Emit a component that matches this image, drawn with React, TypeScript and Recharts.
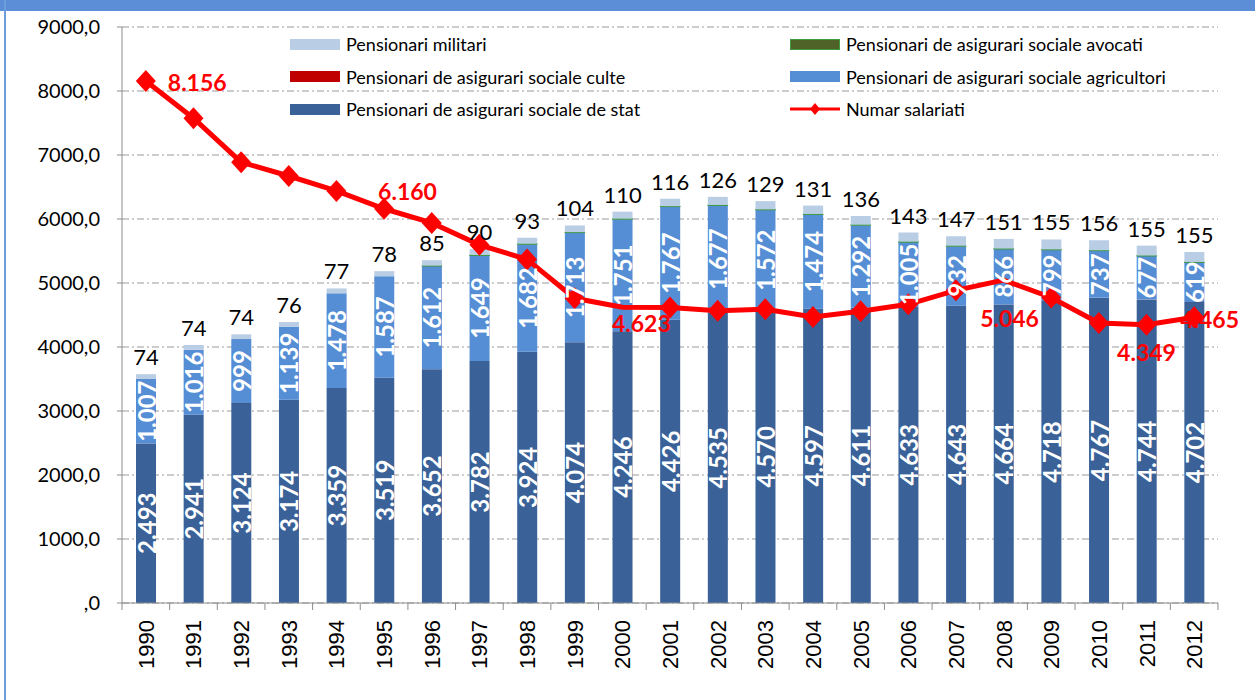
import React from "react";
import {
  ComposedChart, Bar, Line, XAxis, YAxis, CartesianGrid, LabelList,
} from "recharts";

// thousands of persons, by year
const years = [
  "1990", "1991", "1992", "1993", "1994", "1995", "1996", "1997", "1998", "1999", "2000", "2001",
  "2002", "2003", "2004", "2005", "2006", "2007", "2008", "2009", "2010", "2011", "2012",
];
const pensStat = [
  2493, 2941, 3124, 3174, 3359, 3519, 3652, 3782, 3924, 4074, 4246, 4426,
  4535, 4570, 4597, 4611, 4633, 4643, 4664, 4718, 4767, 4744, 4702,
];
const pensCulte = [
  1, 1, 1, 1, 1, 1, 1, 1, 1, 1, 1, 1,
  1, 1, 1, 1, 1, 1, 1, 1, 1, 1, 1,
];
const pensAgricultori = [
  1007, 1016, 999, 1139, 1478, 1587, 1612, 1649, 1682, 1713, 1751, 1767,
  1677, 1572, 1474, 1292, 1005, 932, 866, 799, 737, 677, 619,
];
const pensAvocati = [
  0, 0, 0, 0, 0, 0, 6, 6, 7, 7, 7, 7,
  7, 7, 7, 7, 7, 7, 7, 7, 7, 7, 7,
];
const pensMilitari = [
  74, 74, 74, 76, 77, 78, 85, 90, 93, 104, 110, 116,
  126, 129, 131, 136, 143, 147, 151, 155, 156, 155, 155,
];
const salariati = [
  8156, 7574, 6888, 6672, 6438, 6160, 5939, 5597, 5369, 4761, 4623, 4619,
  4568, 4591, 4469, 4559, 4667, 4885, 5046, 4774, 4376, 4349, 4465,
];
const yTicks = [0, 1000, 2000, 3000, 4000, 5000, 6000, 7000, 8000, 9000];
const labelledYears = ["1990", "1995", "2000", "2008", "2011", "2012"];
const noMarkerYears = ["2000", "2008"];

const data = years.map((y, i) => ({
  year: y,
  stat: pensStat[i],
  culte: pensCulte[i],
  agricultori: pensAgricultori[i],
  avocati: pensAvocati[i],
  militari: pensMilitari[i],
  salariati: salariati[i],
}));

const W = 1255;
const H = 700;
const M = { top: 27, right: 37, bottom: 0, left: 0 };
const Y_W = 122;
const band = (W - M.left - M.right - Y_W) / years.length;

const C = {
  stat: "#3A6298",
  culte: "#C00000",
  agri: "#558ED5",
  avocati: "#4F6228",
  militari: "#B9CDE5",
  line: "#FF0000",
  grid: "#9a9a9a",
  axis: "#8c8c8c",
};

const FONT = "Lato, 'Open Sans', sans-serif";

const fmt = (n: number) =>
  n >= 1000 ? `${Math.floor(n / 1000)}.${String(n % 1000).padStart(3, "0")}` : `${n}`;

const YearTick = (props: any) => {
  const { x, y, payload, index } = props;
  const axisY = y;
  return (
    <g>
      <line x1={x - band / 2} x2={x - band / 2} y1={axisY} y2={axisY + 7} stroke={C.axis} />
      {index === years.length - 1 && (
        <line x1={x + band / 2} x2={x + band / 2} y1={axisY} y2={axisY + 7} stroke={C.axis} />
      )}
      <text
        transform={`translate(${x + 8},${axisY + 17}) rotate(-90)`}
        textAnchor="end"
        fontSize={22}
        fontFamily="'Liberation Sans', Arial, sans-serif"
        fill="#000"
      >
        {payload.value}
      </text>
    </g>
  );
};

const InsideLabel = (props: any) => {
  const { x, y, width, height, value } = props;
  const cx = x + width / 2;
  const cy = y + height / 2;
  return (
    <text
      transform={`translate(${cx},${cy}) rotate(-90)`}
      textAnchor="middle"
      dominantBaseline="central"
      fontSize={24}
      fontWeight={700}
      fontFamily={FONT}
      fill="#fff"
    >
      {fmt(value)}
    </text>
  );
};

const Diamond = (props: any) => {
  const { cx, cy, payload, index } = props;
  if (noMarkerYears.includes(payload.year)) return <g key={index} />;
  const r = 11;
  return (
    <path
      key={index}
      d={`M${cx},${cy - r}L${cx + r - 1},${cy}L${cx},${cy + r}L${cx - r + 1},${cy}Z`}
      fill={C.line}
    />
  );
};

// label placement around the point: dx, dy, anchor
const linePos: Record<string, [number, number, string]> = {
  "1990": [22, 1, "start"],
  "1995": [-6, -18, "start"],
  "2000": [19, 16, "middle"],
  "2008": [6, 38, "middle"],
  "2011": [0, 27, "middle"],
  "2012": [-14, 2, "start"],
};

const LineLabel = (props: any) => {
  const { x, y, value, index } = props;
  const yr = years[index];
  if (!labelledYears.includes(yr)) return null;
  const [dx, dy, anchor] = linePos[yr];
  return (
    <text
      x={x + dx}
      y={y + dy}
      textAnchor={anchor as any}
      dominantBaseline="central"
      fontSize={23}
      fontWeight={700}
      fontFamily={FONT}
      fill={C.line}
    >
      {fmt(value)}
    </text>
  );
};

const legendItems = [
  { label: "Pensionari militari", color: C.militari, col: 0, row: 0 },
  { label: "Pensionari de asigurari sociale culte", color: C.culte, col: 0, row: 1 },
  { label: "Pensionari de asigurari sociale de stat", color: C.stat, col: 0, row: 2 },
  { label: "Pensionari de asigurari sociale avocati", color: C.avocati, col: 1, row: 0 },
  { label: "Pensionari de asigurari sociale agricultori", color: C.agri, col: 1, row: 1 },
  { label: "Numar salariati", color: C.line, col: 1, row: 2, line: true },
];

function ChartLegend() {
  return (
    <div style={{ position: "absolute", left: 0, top: 0, pointerEvents: "none" }}>
      {legendItems.map((it) => {
        const left = it.col === 0 ? 290 : 790;
        const top = 44 + it.row * 32.5;
        return (
          <div
            key={it.label}
            style={{
              position: "absolute", left, top: top - 12, height: 24,
              display: "flex", alignItems: "center", whiteSpace: "nowrap",
            }}
          >
            {it.line ? (
              <svg width={50} height={14} style={{ display: "block" }}>
                <line x1={0} x2={50} y1={7} y2={7} stroke={C.line} strokeWidth={3} />
                <path d="M25,1L30,7L25,13L20,7Z" fill={C.line} />
              </svg>
            ) : (
              <div
                style={{
                  width: 50, height: 11, background: it.color,
                  boxSizing: "border-box",
                  border: it.col === 1 && it.row === 0 ? "1.5px solid #3f9a3f" : "none",
                }}
              />
            )}
            <span style={{ marginLeft: 6, fontSize: 18, fontFamily: FONT, color: "#000" }}>
              {it.label}
            </span>
          </div>
        );
      })}
    </div>
  );
}

export default function App() {
  return (
    <div style={{ position: "relative", width: W, height: H, background: "#fff", overflow: "hidden" }}>
      <style>{"body{margin:0}"}</style>
      <div style={{ position: "absolute", left: 0, top: 0, width: W, height: 11, background: "#5B8ED6" }} />
      <div style={{ position: "absolute", left: 4, top: 0, width: 2, height: H, background: "#6E9DDC" }} />
      <ComposedChart width={W} height={H} data={data} margin={M}>
        <CartesianGrid
          vertical={false}
          stroke={C.grid}
          strokeDasharray="7 3 2 3"
          horizontalValues={yTicks}
        />
        <XAxis
          dataKey="year"
          interval={0}
          height={97}
          tickLine={false}
          tickSize={0}
          tickMargin={0}
          axisLine={{ stroke: C.axis }}
          tick={<YearTick />}
        />
        <YAxis
          width={Y_W}
          domain={[0, 9000]}
          ticks={yTicks}
          interval={0}
          tickSize={5}
          tickMargin={17}
          axisLine={{ stroke: C.axis }}
          tickLine={{ stroke: C.axis }}
          tick={{ fontSize: 20, fontFamily: FONT, fill: "#000" }}
          tickFormatter={(v: number) => (v === 0 ? ",0" : `${v},0`)}
        />
        <Bar dataKey="stat" stackId="p" fill={C.stat} barSize={20} isAnimationActive={false}>
          <LabelList dataKey="stat" content={<InsideLabel />} />
        </Bar>
        <Bar dataKey="culte" stackId="p" fill={C.culte} barSize={20} isAnimationActive={false} />
        <Bar dataKey="agricultori" stackId="p" fill={C.agri} barSize={20} isAnimationActive={false}>
          <LabelList dataKey="agricultori" content={<InsideLabel />} />
        </Bar>
        <Bar
          dataKey="avocati"
          stackId="p"
          fill="#3f9a3f"
          stroke="#3f9a3f"
          strokeWidth={1}
          barSize={20}
          isAnimationActive={false}
        />
        <Bar dataKey="militari" stackId="p" fill={C.militari} barSize={20} isAnimationActive={false}>
          <LabelList
            dataKey="militari"
            position="top"
            offset={9}
            style={{ fontSize: 22, fontFamily: FONT, fill: "#000" }}
          />
        </Bar>
        <Line
          type="linear"
          dataKey="salariati"
          stroke={C.line}
          strokeWidth={5}
          dot={<Diamond />}
          activeDot={false}
          label={<LineLabel />}
          isAnimationActive={false}
        />
      </ComposedChart>
      <ChartLegend />
    </div>
  );
}
